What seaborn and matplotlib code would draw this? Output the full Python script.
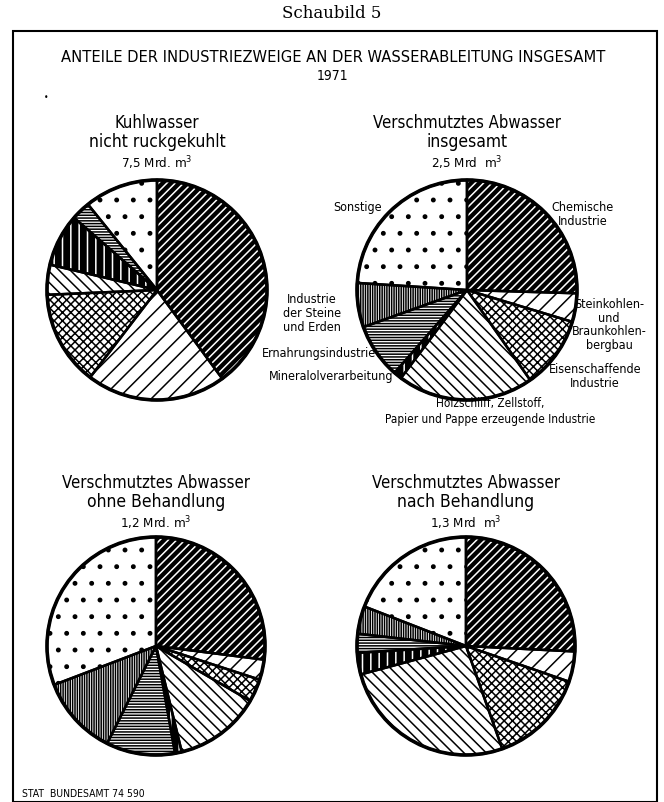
import matplotlib
matplotlib.use("Agg")
import matplotlib.pyplot as plt
import seaborn as sns
from matplotlib.patches import Rectangle

# Categories (clockwise from 12 o'clock) and shares in percent
categories = [
    "Chemische Industrie",
    "Steinkohlen- und Braunkohlenbergbau",
    "Eisenschaffende Industrie",
    "Holzschliff, Zellstoff, Papier und Pappe erzeugende Industrie",
    "Mineralolverarbeitung",
    "Ernahrungsindustrie",
    "Industrie der Steine und Erden",
    "Sonstige",
]
kuhlwasser = [39.9, 20.5, 13.9, 4.4, 7.7, 2.8, 0.0, 10.8]
abwasser_gesamt = [25.5, 4.2, 10.6, 20.0, 1.2, 8.1, 6.5, 24.0]
ohne_behandlung = [27.0, 3.0, 3.4, 12.8, 1.0, 10.2, 11.8, 30.8]
nach_behandlung = [25.8, 4.5, 14.3, 26.2, 3.2, 2.8, 4.1, 19.1]

pie_titles = [
    ("Kuhlwasser", "nicht ruckgekuhlt", "7,5 Mrd. m$^3$"),
    ("Verschmutztes Abwasser", "insgesamt", "2,5 Mrd  m$^3$"),
    ("Verschmutztes Abwasser", "ohne Behandlung", "1,2 Mrd. m$^3$"),
    ("Verschmutztes Abwasser", "nach Behandlung", "1,3 Mrd  m$^3$"),
]

# black and white patterns: (face, hatch, hatch colour)
patterns = [
    ("black", "////", "white"),
    ("white", "//", "black"),
    ("white", "xxxx", "black"),
    ("white", "\\\\\\", "black"),
    ("black", "||", "white"),
    ("white", "------", "black"),
    ("white", "|||||||", "black"),
    ("white", ".", "black"),
]

sns.set_theme(style="white")
plt.rcParams["font.family"] = ["DejaVu Sans"]
plt.rcParams["font.stretch"] = "condensed"
plt.rcParams["text.color"] = "black"
plt.rcParams["mathtext.fontset"] = "dejavusans"
plt.rcParams["hatch.linewidth"] = 1.1

W, H = 664, 803
fig = plt.figure(figsize=(W / 100, H / 100), dpi=100)
fig.patch.set_facecolor("white")


def fx(x, y):
    return x / W, 1 - y / H


def draw_pie(values, cx, cy, r):
    m = 1.04
    ax = fig.add_axes([(cx - r * m) / W, 1 - (cy + r * m) / H, 2 * r * m / W, 2 * r * m / H])
    keep = [(v, p) for v, p in zip(values, patterns) if v > 0]
    vals = [v for v, _ in keep]
    wedges, _ = ax.pie(vals, startangle=90, counterclock=False, radius=1)
    for w, (_, (face, hatch, hc)) in zip(wedges, keep):
        w.set_facecolor(face)
        w.set_hatch(hatch)
        w.set_edgecolor(hc)
        w.set_linewidth(0)
    ax.pie(vals, startangle=90, counterclock=False, radius=1,
           wedgeprops=dict(fill=False, edgecolor="black", linewidth=1.8))
    circ = plt.Circle((0, 0), 1, fill=False, edgecolor="black", linewidth=2.6)
    ax.add_patch(circ)
    ax.set_xlim(-m, m)
    ax.set_ylim(-m, m)
    ax.axis("off")
    return ax


centers = [(157, 291, 110), (467, 291, 110), (156, 647, 109), (466, 647, 109)]
data = [kuhlwasser, abwasser_gesamt, ohne_behandlung, nach_behandlung]
for vals, (cx, cy, r), (t1, t2, t3) in zip(data, centers, pie_titles):
    draw_pie(vals, cx, cy, r)
    top = 123 if cy < 400 else 483
    fig.text(*fx(cx, top), t1, ha="center", va="center", fontsize=12)
    fig.text(*fx(cx, top + 19), t2, ha="center", va="center", fontsize=12.5)
    fig.text(*fx(cx, top + 40), t3, ha="center", va="center", fontsize=9.5)

# frame
fig.patches.append(Rectangle(fx(13, 803), (657 - 13) / W, (803 - 32) / H,
                             transform=fig.transFigure, fill=False,
                             edgecolor="black", linewidth=1.5))

fig.text(*fx(332, 14), "Schaubild 5", ha="center", va="center",
         fontsize=12, family="DejaVu Serif", stretch="normal")
fig.text(*fx(333, 57), "ANTEILE DER INDUSTRIEZWEIGE AN DER WASSERABLEITUNG INSGESAMT",
         ha="center", va="center", fontsize=11.8)
fig.text(*fx(332, 76), "1971", ha="center", va="center", fontsize=10)
fig.text(*fx(46, 97), "•", ha="center", va="center", fontsize=6)

# labels of the upper right pie
lab = dict(fontsize=9, va="center")
fig.text(*fx(583, 215), "Chemische\nIndustrie", ha="center", linespacing=1.1, **lab)
fig.text(*fx(609, 325), "Steinkohlen-\nund\nBraunkohlen-\nbergbau", ha="center", linespacing=1.05, **lab)
fig.text(*fx(595, 377), "Eisenschaffende\nIndustrie", ha="center", linespacing=1.1, **lab)
fig.text(*fx(490, 411), "Holzschliff, Zellstoff,\nPapier und Pappe erzeugende Industrie",
         ha="center", linespacing=1.3, fontsize=8.5, va="center")
fig.text(*fx(393, 377), "Mineralolverarbeitung", ha="right", **lab)
fig.text(*fx(376, 354), "Ernahrungsindustrie", ha="right", **lab)
fig.text(*fx(312, 314), "Industrie\nder Steine\nund Erden", ha="center", linespacing=1.1, **lab)
fig.text(*fx(358, 208), "Sonstige", ha="center", **lab)

fig.text(*fx(22, 794), "STAT  BUNDESAMT 74 590", ha="left", va="center", fontsize=7.5)

fig.savefig("out.png", dpi=100, facecolor="white")
